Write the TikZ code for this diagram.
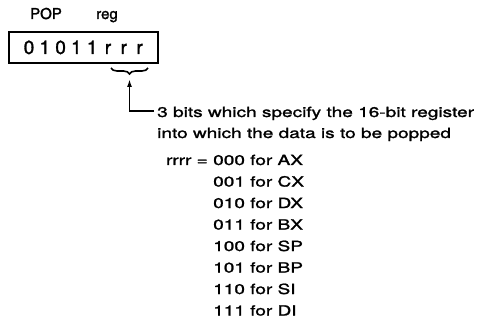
\documentclass[tikz,border=0pt]{standalone}
\usepackage{fontspec}
\setmainfont{TeX Gyre Heros}[FakeBold=1.5]
\newfontfamily\widefont{TeX Gyre Heros}[FakeStretch=1.36,FakeBold=1.5]
\usetikzlibrary{arrows.meta,decorations.pathreplacing}
\begin{document}
\begin{tikzpicture}[x=1pt,y=-1pt,
  body/.style={font=\widefont\fontsize{14}{16}\selectfont, inner sep=0pt, anchor=base west},
  bodyr/.style={font=\widefont\fontsize{14}{16}\selectfont, inner sep=0pt, anchor=base east},
  head/.style={font=\fontsize{15}{17}\selectfont, inner sep=0pt, anchor=base},
  digit/.style={font=\fontsize{19}{21}\selectfont, inner sep=0pt, anchor=base},
  frame/.style={draw, line width=1.8pt, inner sep=0pt, minimum width=149pt, minimum height=31pt, anchor=north west},
  conn/.style={line width=1.6pt},
  bracestyle/.style={line width=1.6pt, decorate, decoration={brace, amplitude=6pt, mirror}}]
\useasboundingbox (0,0) rectangle (486,320);
% header labels
\node[head] (pop) at (46,19) {POP};
\node[head] (reg) at (107,19) {reg};
% box
\node[frame] (box) at (8,31) {};
\foreach \c [count=\i from 0] in {0,1,0,1,1,r,r,r}
  \node[digit] (d\i) at ({29+\i*15.8},54) {\c};
% brace
\coordinate (bl) at (111,68);
\coordinate (br) at (148,68);
\draw[bracestyle] (bl) -- (br);
% arrow
\coordinate (tip) at (129.5,79);
\coordinate (corner) at (129.5,111);
\coordinate (lend) at (154,111);
\draw[conn, -{Latex[length=8pt,width=5pt]}] (lend) -- (corner) -- (tip);
% text
\node[body] (l1) at (157,117) {3 bits which specify the 16-bit register};
\node[body] (l2) at (157,138) {into which the data is to be popped};
\node[bodyr] (eq) at (208,165) {rrrr =};
\foreach \t [count=\i from 0] in {000 for AX,001 for CX,010 for DX,011 for BX,100 for SP,101 for BP,110 for SI,111 for DI}
  \node[body] (r\i) at (213,{165+\i*21.5}) {\t};
\end{tikzpicture}
\end{document}
